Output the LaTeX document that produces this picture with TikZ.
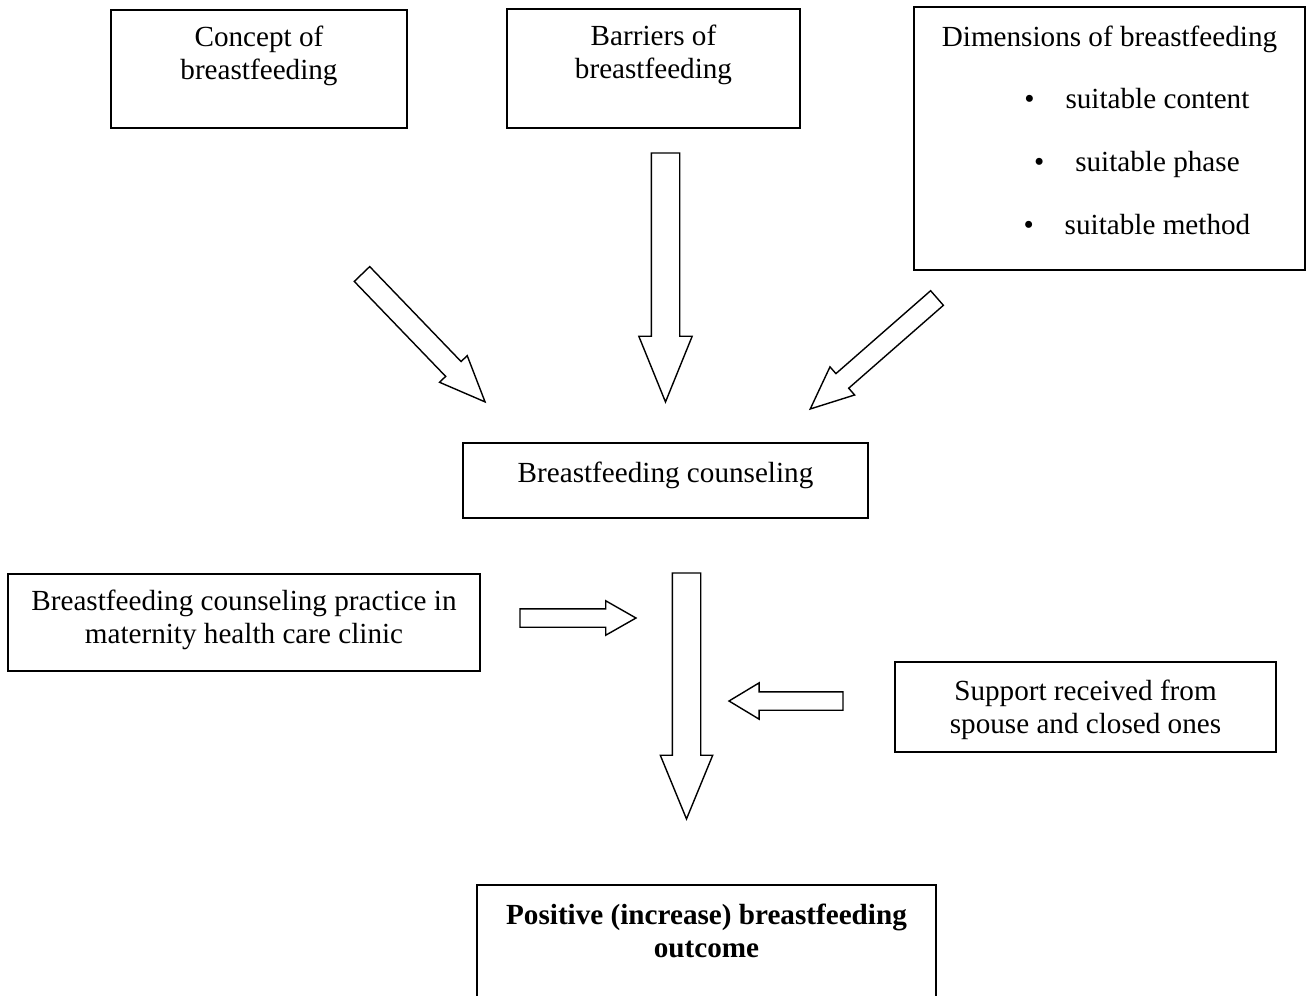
\documentclass[tikz,border=0pt]{standalone}
\usepackage{fontspec}
\setmainfont{Liberation Serif}
\usetikzlibrary{shapes.arrows}

\begin{document}
\begin{tikzpicture}[
    x=0.02cm, y=-0.02cm,
    font=\fontsize{16.6}{18.8}\selectfont,
    box/.style={rectangle, draw=black, line width=1.1pt, inner sep=0pt, outer sep=0pt},
    txt/.style={anchor=north, align=center, inner sep=0pt},
    blockarrow/.style={single arrow, draw=black, line width=0.8pt, inner xsep=0pt, outer sep=0pt, anchor=tail}
]
\useasboundingbox (0,0) rectangle (1306,995);

% top row
\node[box, minimum width=5.92cm, minimum height=2.36cm, label={[txt, yshift=-0.32cm]north:Concept of\\breastfeeding}] (concept) at (259,69) {};
\node[box, minimum width=5.86cm, minimum height=2.38cm, label={[txt, yshift=-0.32cm]north:Barriers of\\breastfeeding}] (barriers) at (653.5,68.5) {};
\node[box, minimum width=7.82cm, minimum height=5.26cm, label={[txt, yshift=-0.38cm]north:Dimensions of breastfeeding\\[0.58cm]\hspace*{1.92cm}\llap{\textbullet\hspace{0.62cm}}suitable content\\[0.60cm]\hspace*{1.92cm}\llap{\textbullet\hspace{0.62cm}}suitable phase\\[0.60cm]\hspace*{1.92cm}\llap{\textbullet\hspace{0.62cm}}suitable method}] (dimensions) at (1109.5,138.5) {};

% middle
\node[box, minimum width=8.10cm, minimum height=1.50cm, label={[txt, yshift=-0.38cm]north:Breastfeeding counseling}] (counseling) at (665.5,480.5) {};
\node[box, minimum width=9.44cm, minimum height=1.94cm, label={[txt, yshift=-0.32cm]north:Breastfeeding counseling practice in\\maternity health care clinic}] (practice) at (244,622.5) {};
\node[box, minimum width=7.62cm, minimum height=1.80cm, label={[txt, yshift=-0.36cm]north:Support received from\\spouse and closed ones}] (support) at (1085.5,707) {};

% bottom
\node[box, minimum width=9.18cm, minimum height=2.50cm, label={[txt, yshift=-0.38cm]north:\textbf{Positive (increase) breastfeeding}\\\textbf{outcome}}] (outcome) at (706.5,947.5) {};

% block arrows
\node[blockarrow, rotate=-46.1, minimum height=3.55cm, inner ysep=0.20cm, single arrow head extend=0.17cm, single arrow tip angle=45.6] (arrconcept) at (362,274) {};
\node[blockarrow, rotate=-90, minimum height=4.98cm, inner ysep=0.27cm, single arrow head extend=0.25cm, single arrow tip angle=44.2] (arrbarriers) at (665.5,153) {};
\node[blockarrow, rotate=-138.8, minimum height=3.37cm, inner ysep=0.18cm, single arrow head extend=0.18cm, single arrow tip angle=47.4] (arrdimensions) at (937,298) {};
\node[blockarrow, rotate=0, minimum height=2.32cm, inner ysep=0.17cm, single arrow head extend=0.16cm, single arrow tip angle=59.3] (arrpractice) at (520,618) {};
\node[blockarrow, rotate=-90, minimum height=4.92cm, inner ysep=0.27cm, single arrow head extend=0.24cm, single arrow tip angle=44.7] (arroutcome) at (686.5,573) {};
\node[blockarrow, rotate=180, minimum height=2.28cm, inner ysep=0.17cm, single arrow head extend=0.18cm, single arrow tip angle=62.2] (arrsupport) at (843,701) {};

\end{tikzpicture}
\end{document}
